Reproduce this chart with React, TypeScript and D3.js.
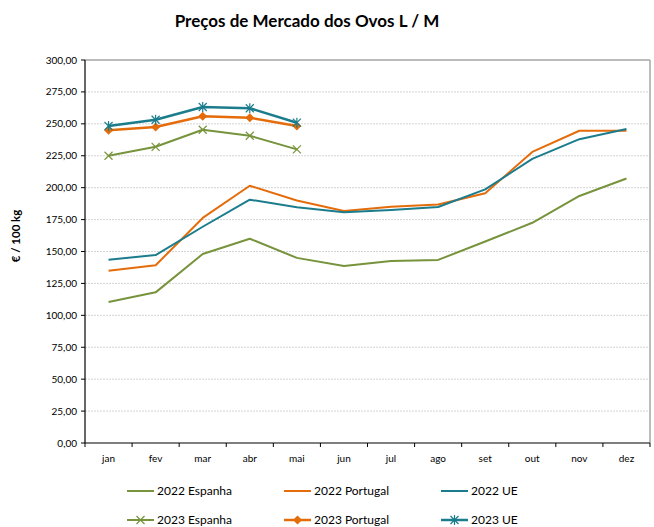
import React from "react";
import * as d3 from "d3";

const months = ["jan", "fev", "mar", "abr", "mai", "jun", "jul", "ago", "set", "out", "nov", "dez"];
const yTicks = [0, 25, 50, 75, 100, 125, 150, 175, 200, 225, 250, 275, 300];

const esp2022 = [110.4, 118, 148, 160, 145, 138.6, 142.6, 143.4, 157.8, 172.5, 193.5, 207.2];
const por2022 = [135, 139.2, 176.3, 201.5, 190, 181.8, 185, 186.8, 195.6, 228, 244.6, 244.6];
const ue2022 = [143.5, 147.2, 169.4, 190.6, 184.6, 180.7, 182.5, 184.9, 198.7, 222.5, 238, 246];
const esp2023 = [225, 232, 245.4, 240.7, 230];
const por2023 = [244.9, 247.5, 255.9, 254.8, 248.3];
const ue2023 = [248.3, 253.2, 263.2, 262.2, 250.9];

const GREEN = "#77933C";
const ORANGE = "#E46C0A";
const TEAL = "#1B7C8C";
const FONT = "Lato, 'Open Sans', sans-serif";

type Series = { name: string; values: number[]; color: string; marker: "none" | "x" | "diamond" | "star"; width: number };

const series: Series[] = [
  { name: "2022 Espanha", values: esp2022, color: GREEN, marker: "none", width: 2 },
  { name: "2022 Portugal", values: por2022, color: ORANGE, marker: "none", width: 2 },
  { name: "2022 UE", values: ue2022, color: TEAL, marker: "none", width: 2 },
  { name: "2023 Espanha", values: esp2023, color: GREEN, marker: "x", width: 2 },
  { name: "2023 Portugal", values: por2023, color: ORANGE, marker: "diamond", width: 2.5 },
  { name: "2023 UE", values: ue2023, color: TEAL, marker: "star", width: 2.5 },
];

function Marker({ type, x, y, color }: { type: string; x: number; y: number; color: string }) {
  const s = 4;
  if (type === "x") {
    return (
      <g stroke={color} strokeWidth={1.2}>
        <line x1={x - s} y1={y - s} x2={x + s} y2={y + s} />
        <line x1={x - s} y1={y + s} x2={x + s} y2={y - s} />
      </g>
    );
  }
  if (type === "diamond") {
    return <path d={`M${x},${y - 4.5}L${x + 4.5},${y}L${x},${y + 4.5}L${x - 4.5},${y}Z`} fill={color} />;
  }
  if (type === "star") {
    return (
      <g stroke={color} strokeWidth={1.2}>
        <line x1={x - s} y1={y - s} x2={x + s} y2={y + s} />
        <line x1={x - s} y1={y + s} x2={x + s} y2={y - s} />
        <line x1={x} y1={y - s - 1} x2={x} y2={y + s + 1} />
      </g>
    );
  }
  return null;
}

export default function App() {
  const width = 654;
  const height = 527;
  const left = 85;
  const right = 650;
  const top = 60;
  const bottom = 443;

  const x = d3.scaleBand<string>().domain(months).range([left, right]).paddingInner(0).paddingOuter(0);
  const y = d3.scaleLinear().domain([0, 300]).range([bottom, top]);
  const cx = (i: number) => (x(months[i]) as number) + x.bandwidth() / 2;
  const line = d3
    .line<number>()
    .x((_, i) => cx(i))
    .y((d) => y(d));

  const legendCols = [127, 284, 441];
  const legendRows = [491, 520];

  return (
    <div style={{ position: "absolute", left: 0, top: 0 }}>
      <svg width={width} height={height} style={{ display: "block", background: "#fff" }}>
        <text x={307} y={27} textAnchor="middle" fontFamily={FONT} fontWeight="bold" fontSize={17} fill="#000">
          Preços de Mercado dos Ovos L / M
        </text>

        {yTicks.map((t) =>
          t > 0 && t < 300 ? (
            <line key={"g" + t} x1={left} x2={right} y1={y(t)} y2={y(t)} stroke="#d4d4d4" strokeWidth={1} strokeDasharray="2,1" />
          ) : null
        )}
        <line x1={left} x2={right} y1={top} y2={top} stroke="#a6a6a6" strokeWidth={1.5} />
        <line x1={right} x2={right} y1={top} y2={bottom} stroke="#a6a6a6" strokeWidth={1.5} />

        <line x1={left} x2={left} y1={top} y2={bottom} stroke="#000" strokeWidth={1.2} />
        <line x1={left} x2={right} y1={bottom} y2={bottom} stroke="#000" strokeWidth={1.2} />

        {yTicks.map((t) => (
          <g key={"y" + t}>
            <line x1={left - 4} x2={left} y1={y(t)} y2={y(t)} stroke="#000" strokeWidth={1} />
            <text x={77} y={y(t) + 3.5} textAnchor="end" fontFamily={FONT} fontSize={10} fill="#000">
              {d3.format(".2f")(t).replace(".", ",")}
            </text>
          </g>
        ))}

        {months.map((m, i) => (
          <g key={m}>
            <line x1={x(m) as number} x2={x(m) as number} y1={bottom} y2={bottom + 4} stroke="#000" strokeWidth={1} />
            {i === months.length - 1 ? (
              <line x1={right} x2={right} y1={bottom} y2={bottom + 4} stroke="#000" strokeWidth={1} />
            ) : null}
            <text x={cx(i)} y={462} textAnchor="middle" fontFamily={FONT} fontSize={10} fill="#000">
              {m}
            </text>
          </g>
        ))}

        <text
          transform={`translate(20,236) rotate(-90)`}
          textAnchor="middle"
          fontFamily={FONT}
          fontWeight="bold"
          fontSize={11.5}
          fill="#000"
        >
          € / 100 kg
        </text>

        {series.map((s) => (
          <g key={s.name}>
            <path d={line(s.values) as string} fill="none" stroke={s.color} strokeWidth={s.width} strokeLinejoin="round" />
            {s.values.map((v, i) => (
              <Marker key={i} type={s.marker} x={cx(i)} y={y(v)} color={s.color} />
            ))}
          </g>
        ))}

        {series.map((s, k) => {
          const lx = legendCols[k % 3];
          const ly = legendRows[Math.floor(k / 3)];
          return (
            <g key={"l" + s.name}>
              <line x1={lx} x2={lx + 27} y1={ly} y2={ly} stroke={s.color} strokeWidth={s.width} />
              <Marker type={s.marker} x={lx + 13.5} y={ly} color={s.color} />
              <text x={lx + 30} y={ly + 4} fontFamily={FONT} fontSize={12} fill="#000">
                {s.name}
              </text>
            </g>
          );
        })}
      </svg>
    </div>
  );
}
